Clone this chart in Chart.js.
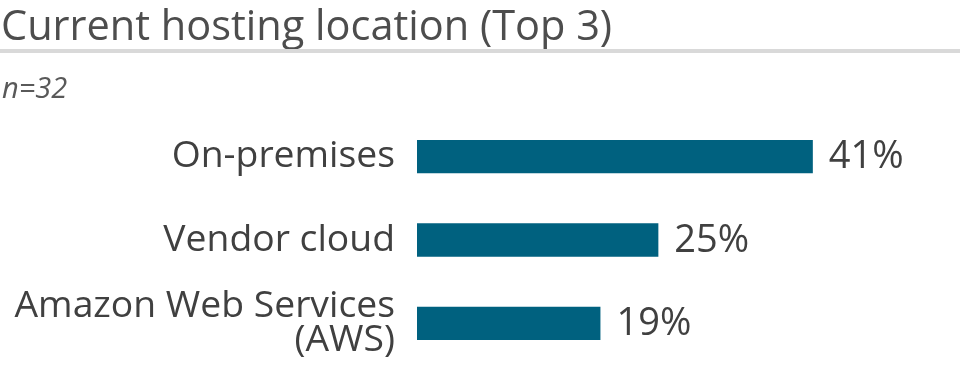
<!DOCTYPE html>
<html>
<head>
<meta charset="utf-8">
<script src="https://cdn.jsdelivr.net/npm/chart.js@4"></script>
<style>
  html, body { margin: 0; padding: 0; background: #fff; }
  #wrap { width: 960px; height: 371px; position: relative; }
</style>
</head>
<body>
<div id="wrap"><canvas id="chart"></canvas></div>
<script>
const categories = ['On-premises', 'Vendor cloud', ['Amazon Web Services', '(AWS)']];
const shares = [41, 25, 19];
const chartTitle = 'Current hosting location (Top 3)';
const sampleNote = 'n=32';

const barColor = '#00617f';
const textColor = '#404040';

// title, rule and sample size drawn above the plot
const headerPlugin = {
    id: 'header',
    beforeDraw(chart) {
        const ctx = chart.ctx;
        ctx.save();
        ctx.fillStyle = '#4d4d4d';
        ctx.font = '41.5px "Open Sans"';
        ctx.textBaseline = 'alphabetic';
        ctx.textAlign = 'left';
        ctx.fillText(chartTitle, 1, 40);
        ctx.fillStyle = '#d9d9d9';
        ctx.fillRect(0, 49, 960, 4);
        ctx.fillStyle = '#595959';
        ctx.font = 'italic 29px "Open Sans"';
        ctx.fillText(sampleNote, 2, 98);
        ctx.restore();
    }
};

// percentage labels at the end of each bar
const valueLabels = {
    id: 'valueLabels',
    afterDatasetsDraw(chart) {
        const ctx = chart.ctx;
        const meta = chart.getDatasetMeta(0);
        ctx.save();
        ctx.fillStyle = textColor;
        ctx.font = '38px "Open Sans"';
        ctx.textAlign = 'left';
        ctx.textBaseline = 'middle';
        meta.data.forEach((bar, i) => {
            ctx.fillText(shares[i] + '%', bar.x + 16, bar.y + 1);
        });
        ctx.restore();
    }
};

const ctx = document.getElementById('chart').getContext('2d');
const chart = new Chart(ctx, {
    type: 'bar',
    data: {
        labels: categories,
        datasets: [{
            data: shares,
            backgroundColor: barColor,
            borderWidth: 0,
            barPercentage: 0.4,
            categoryPercentage: 1
        }]
    },
    options: {
        indexAxis: 'y',
        responsive: true,
        maintainAspectRatio: false,
        animation: false,
        layout: { autoPadding: false, padding: { top: 115, bottom: 6, right: 12, left: 0 } },
        plugins: {
            legend: { display: false },
            tooltip: { enabled: false }
        },
        scales: {
            x: {
                min: 0,
                max: 55,
                display: false
            },
            y: {
                grid: { display: false, drawTicks: false },
                border: { display: false },
                afterFit(scale) {
                    scale.width = 417;
                    scale.paddingTop = 0;
                    scale.paddingBottom = 0;
                },
                ticks: {
                    color: textColor,
                    padding: 22,
                    font: { family: 'Open Sans', size: 37.3, lineHeight: 0.92 }
                }
            }
        }
    },
    plugins: [headerPlugin, valueLabels]
});
</script>
</body>
</html>
